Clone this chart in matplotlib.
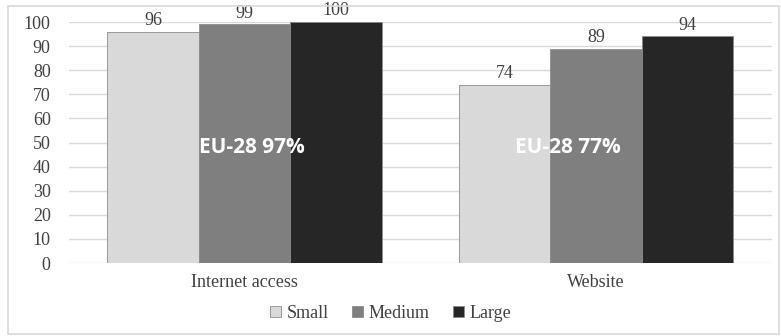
import matplotlib.pyplot as plt
import numpy as np
from matplotlib.patches import Rectangle

categories = ["Internet access", "Website"]
sizes = ["Small", "Medium", "Large"]
small = [96, 74]
medium = [99, 89]
large = [100, 94]
eu28 = ["EU-28 97%", "EU-28 77%"]
colors = ["#d9d9d9", "#7f7f7f", "#262626"]

plt.rcParams["font.family"] = ["Liberation Serif", "DejaVu Serif"]

fig = plt.figure(figsize=(7.81, 3.36), dpi=100)
ax = fig.add_axes([0.088, 0.217, 0.900, 0.7175])

# outer chart frame
fig.patches.append(Rectangle((8 / 781, 2 / 336), 771 / 781, 328 / 336,
                             transform=fig.transFigure, fill=False,
                             edgecolor="#d9d9d9", linewidth=1.2))

x = np.arange(len(categories))
w = 0.26
series = [small, medium, large]
for i, (name, vals) in enumerate(zip(sizes, series)):
    bars = ax.bar(x + (i - 1) * w, vals, w, color=colors[i], label=name,
                  edgecolor="#8c8c8c", linewidth=0.6, zorder=3)
    for b, v in zip(bars, vals):
        ax.text(b.get_x() + b.get_width() / 2, v + 1.2, str(v),
                ha="center", va="bottom", fontsize=13, color="#404040",
                zorder=4)

# EU-28 average overlays
for xi, dx, t in zip(x, [0.02, -0.08], eu28):
    ax.text(xi + dx, 48, t, ha="center", va="center", color="white",
            fontsize=15, fontweight="bold", family="Open Sans", zorder=5)

ax.set_xlim(-0.5, 1.5)
ax.set_ylim(0, 100)
ax.set_yticks(range(0, 101, 10))
ax.set_xticks(x)
ax.set_xticklabels(categories, fontsize=13, color="#404040")
ax.tick_params(axis="y", labelsize=13, labelcolor="#404040", length=0, pad=13)
ax.tick_params(axis="x", length=0, pad=8)
ax.grid(axis="y", color="#d9d9d9", linewidth=1, zorder=0)
for s in ax.spines.values():
    s.set_visible(False)

fig.legend(loc="center", bbox_to_anchor=(0.5, 0.068), ncol=3, frameon=False,
           fontsize=13, handlelength=0.6, handleheight=0.6, handletextpad=0.3,
           columnspacing=1.3, labelcolor="#404040")

fig.savefig("out.png", dpi=100)
